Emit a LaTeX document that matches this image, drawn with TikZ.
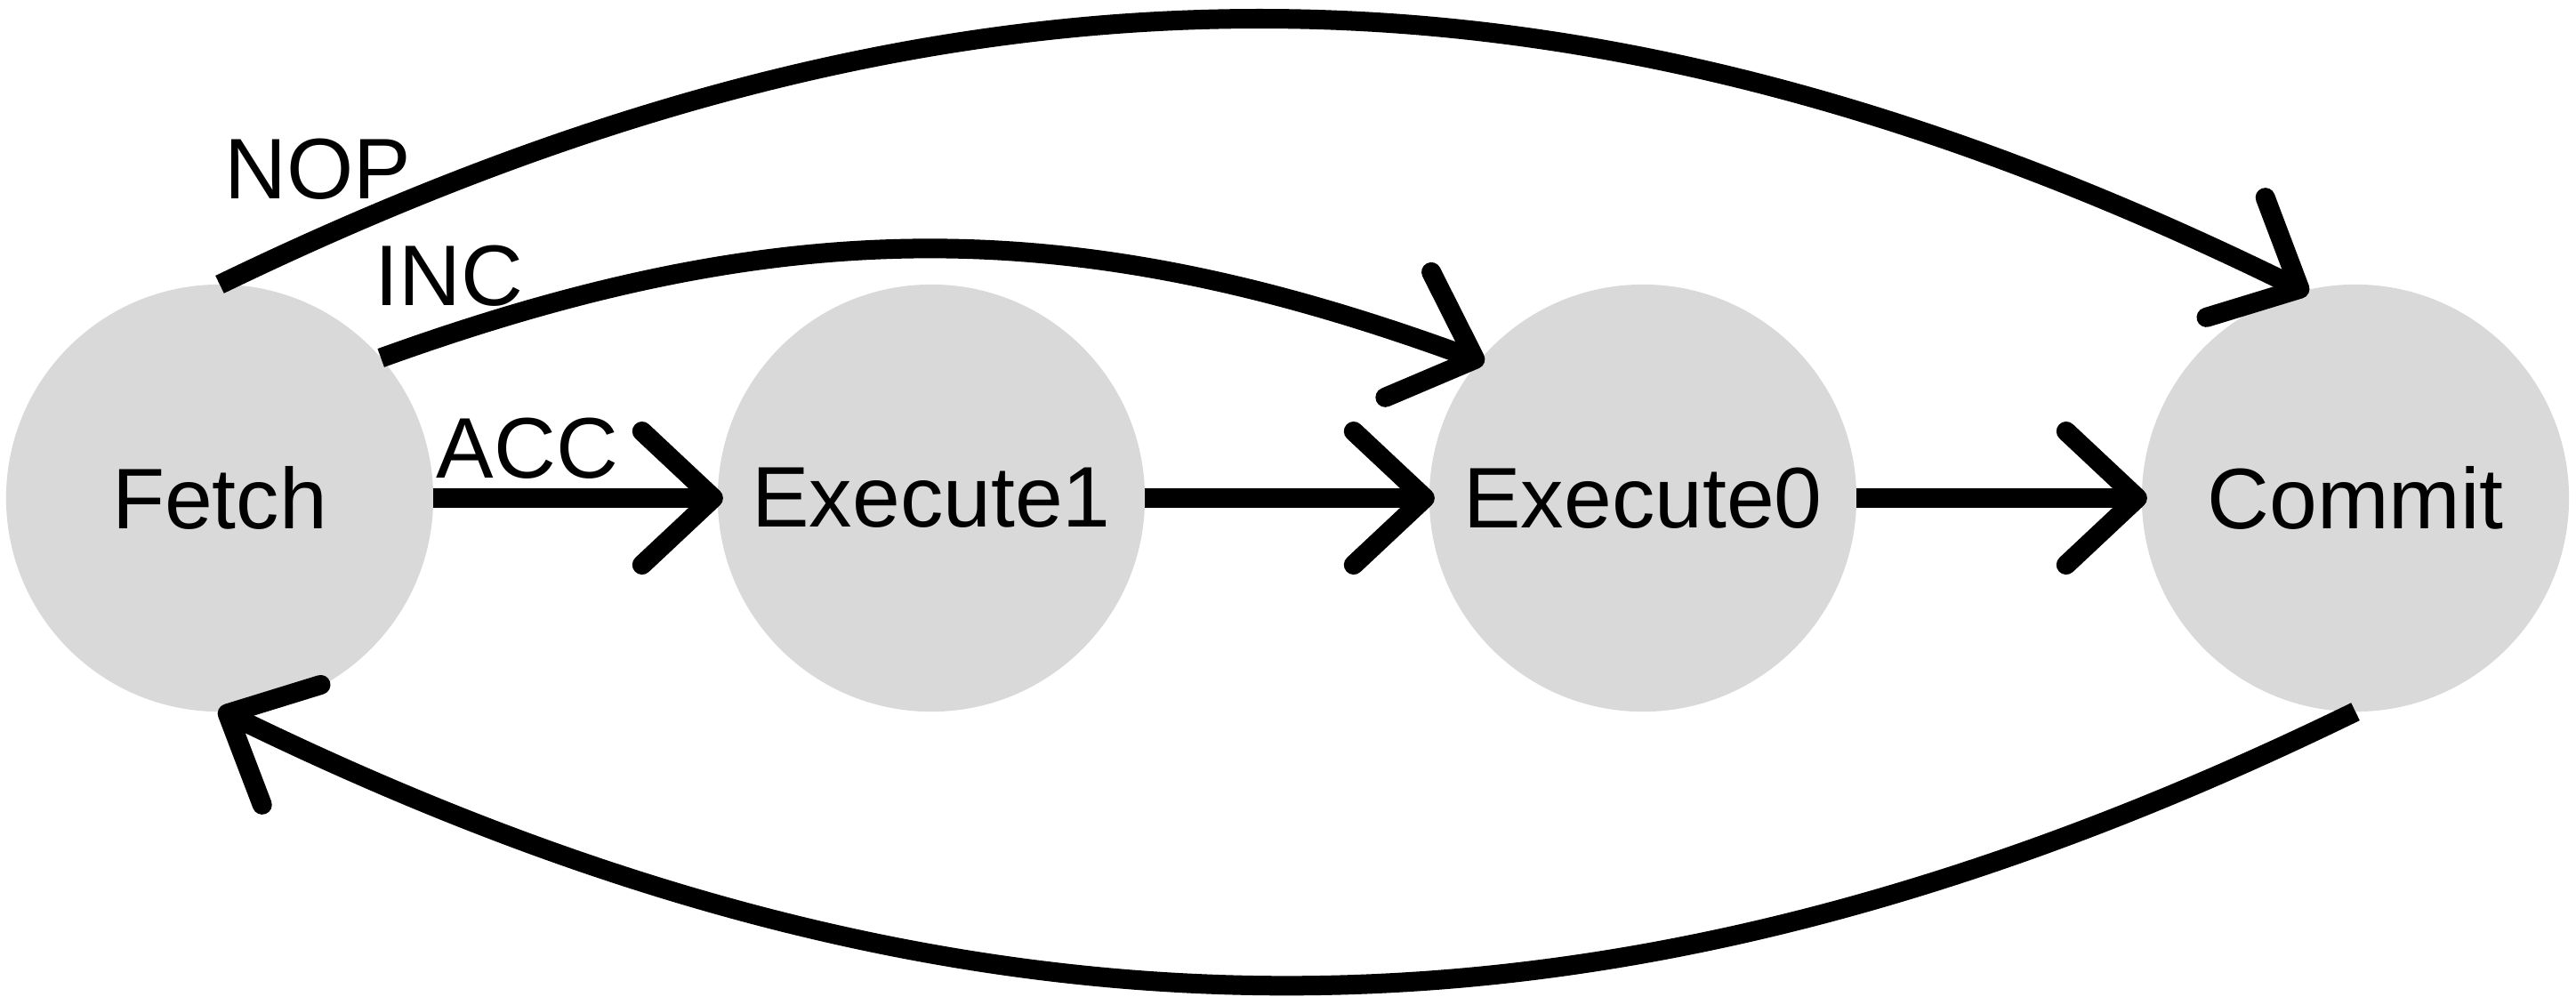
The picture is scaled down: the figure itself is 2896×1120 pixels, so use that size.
\documentclass[tikz,border=0pt]{standalone}
\usepackage{fontspec}
\setmainfont{Liberation Sans}
\usetikzlibrary{arrows.meta}
\definecolor{stategray}{HTML}{D9D9D9}
\begin{document}
\begin{tikzpicture}[x=0.01cm,y=-0.01cm,
  state/.style={circle, fill=stategray, minimum size=4.8cm, inner sep=0pt, outer sep=0pt, font=\fontsize{27.5}{33}\selectfont},
  lbl/.style={inner sep=0pt, anchor=base west, font=\fontsize{27.5}{33}\selectfont},
  edge/.style={line width=0.22cm, shorten >=-0.06cm, -{Straight Barb[length=0.8cm,width=1.5cm,line cap=round,line join=round]}},
]
\useasboundingbox (0,0) rectangle (2896,1120);
\node[state] (F) at (247,560) {Fetch};
\node[state] (E1) at (1047,560) {Execute1};
\node[state] (E0) at (1847,560) {Execute0};
\node[state] (C) at (2648,560) {Commit};
\draw[edge] (F) -- (E1);
\draw[edge] (E1) -- (E0);
\draw[edge] (E0) -- (C);
\draw[edge] (F.north) to[bend left=26] (C.104);
\draw[edge] (F.41) to[bend left=20] (E0.140);
\draw[edge] (C.south) to[bend left=26] (F.271);
\node[lbl] (nop) at (252,223) {NOP};
\node[lbl] (inc) at (421,343) {INC};
\node[lbl] (acc) at (490,537) {ACC};
\end{tikzpicture}
\end{document}
